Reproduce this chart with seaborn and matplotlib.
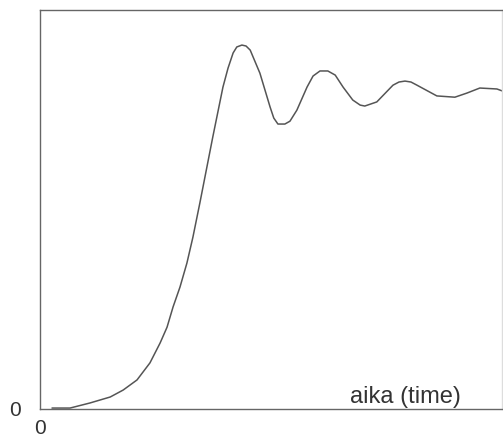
#!/usr/bin/env python3
"""Step response with damped oscillation (aika / time)."""
import matplotlib
matplotlib.use("Agg")
import matplotlib.pyplot as plt
import pandas as pd
import seaborn as sns

# values (time in arbitrary units, output normalised to ~1)
TIME = [0.26, 0.65, 1.08, 1.52, 1.80, 2.10, 2.38, 2.60, 2.75, 2.88, 3.03, 3.18,
        3.31, 3.46, 3.74, 3.96, 4.07, 4.18, 4.26, 4.37, 4.46, 4.55, 4.76, 4.98,
        5.06, 5.15, 5.30, 5.41, 5.56, 5.78, 5.91, 6.06, 6.23, 6.39, 6.56, 6.77,
        6.93, 7.03, 7.29, 7.64, 7.77, 7.90, 8.03, 8.16, 8.59, 8.98, 9.24, 9.52,
        9.89, 10.02]
OUTPUT = [0.003, 0.003, 0.019, 0.038, 0.060, 0.092, 0.146, 0.209, 0.259, 0.323,
          0.386, 0.462, 0.544, 0.652, 0.861, 1.019, 1.079, 1.127, 1.146, 1.152,
          1.149, 1.136, 1.063, 0.956, 0.921, 0.902, 0.902, 0.911, 0.946, 1.019,
          1.054, 1.070, 1.070, 1.057, 1.019, 0.978, 0.962, 0.959, 0.972, 1.025,
          1.035, 1.038, 1.035, 1.025, 0.991, 0.987, 1.000, 1.016, 1.013, 1.006]
XTICKS = [0]
YTICKS = [0]
XLABEL = "aika (time)"


def main() -> None:
    df = pd.DataFrame({"t": TIME, "y": OUTPUT})

    sns.set_style("white")
    plt.rcParams["font.family"] = ["Liberation Sans", "DejaVu Sans"]

    fig = plt.figure(figsize=(5.03, 4.38), dpi=100)
    ax = fig.add_axes([40 / 503, 29 / 438, 462 / 503, 399 / 438])

    sns.lineplot(data=df, x="t", y="y", color="#555555", linewidth=1.1, ax=ax)

    ax.set_xlim(0, 10.0)
    ax.set_ylim(0, 1.263)
    ax.set_xticks(XTICKS)
    ax.set_yticks(YTICKS)
    ax.set_xticklabels([str(v) for v in XTICKS])
    ax.set_yticklabels([str(v) for v in YTICKS])
    ax.tick_params(axis="both", length=0, labelsize=15, colors="#333333")
    ax.tick_params(axis="y", pad=14)
    ax.tick_params(axis="x", pad=7)
    ax.set_xlabel("")
    ax.set_ylabel("")
    for side, spine in ax.spines.items():
        spine.set_color("#666666")
        spine.set_linewidth(1.0)
    ax.spines["right"].set_color("#dddddd")

    ax.text(0.792, 0.015, XLABEL, transform=ax.transAxes, ha="center",
            va="baseline", fontsize=17, color="#333333")

    fig.savefig("out.png", dpi=100)


if __name__ == "__main__":
    main()
